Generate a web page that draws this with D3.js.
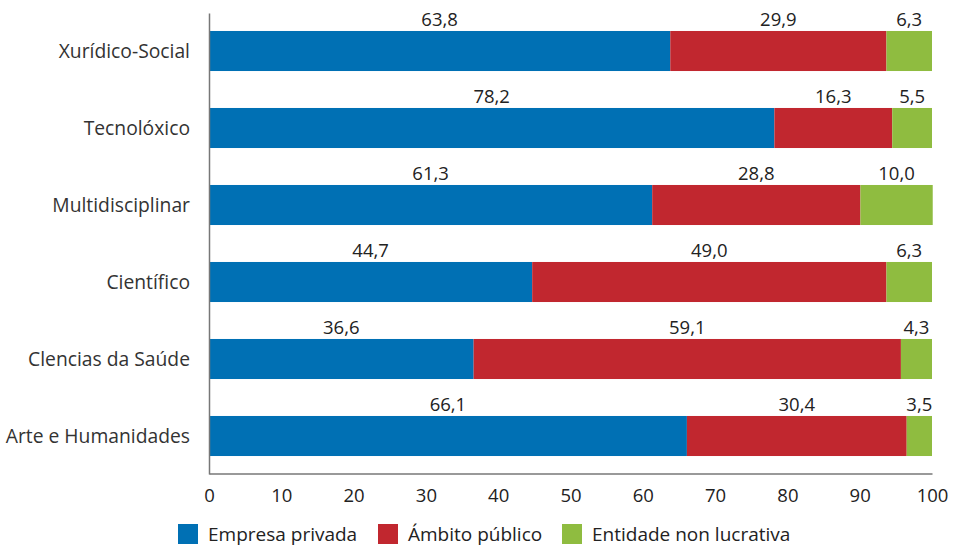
<!DOCTYPE html>
<html><head><meta charset="utf-8">
<script src="https://cdn.jsdelivr.net/npm/d3@7/dist/d3.min.js"></script>
<style>body{margin:0;background:#fff;} text{font-family:"Open Sans",sans-serif;}</style>
</head><body><svg id="c" width="954" height="550"></svg>
<script>
const categories = ["Xurídico-Social","Tecnolóxico","Multidisciplinar","Científico","Clencias da Saúde","Arte e Humanidades"];
const seriesNames = ["Empresa privada","Ámbito público","Entidade non lucrativa"];
const empresaPrivada = [63.8,78.2,61.3,44.7,36.6,66.1];
const ambitoPublico = [29.9,16.3,28.8,49.0,59.1,30.4];
const entidadeNonLucrativa = [6.3,5.5,10.0,6.3,4.3,3.5];
const xTicks = [0,10,20,30,40,50,60,70,80,90,100];
const colors = ["#0070b4","#c1272f","#8fbc40"];

const svg = d3.select("#c");
const x = d3.scaleLinear().domain([0,100]).range([209,932]);
const y = d3.scaleBand().domain(categories).range([12.5,474.5]).paddingInner(0.48).paddingOuter(0.24);

const rows = categories.map((c,i)=>({cat:c, v0:empresaPrivada[i], v1:ambitoPublico[i], v2:entidadeNonLucrativa[i]}));
const stack = d3.stack().keys(["v0","v1","v2"])(rows);
const fmt = v => d3.format(".1f")(v).replace(".",",");

stack.forEach((layer,k)=>{
  const g = svg.append("g");
  g.selectAll("rect").data(layer).join("rect")
    .attr("x",d=>x(d[0])).attr("width",d=>x(d[1])-x(d[0]))
    .attr("y",d=>y(d.data.cat)).attr("height",y.bandwidth())
    .attr("fill",colors[k]);
  g.selectAll("text").data(layer).join("text")
    .attr("x",d=>(x(d[0])+x(d[1]))/2).attr("y",d=>y(d.data.cat)-5)
    .attr("text-anchor","middle").attr("font-size",18.5).attr("fill","#222")
    .text(d=>fmt(d[1]-d[0]));
});

// category labels
svg.append("g").selectAll("text").data(categories).join("text")
  .attr("x",190).attr("y",d=>y(d)+y.bandwidth()/2).attr("dy","0.35em")
  .attr("text-anchor","end").attr("font-size",19.3).attr("fill","#333").text(d=>d);

// axes
const xAxis = svg.append("g").attr("transform","translate(0,473.5)")
  .call(d3.axisBottom(x).tickValues(xTicks).tickSize(0).tickPadding(15).tickFormat(d=>d));
xAxis.select(".domain").attr("stroke","#777").attr("stroke-width",1.5);
xAxis.selectAll("text").attr("font-size",18.5).attr("fill","#222").attr("font-family","'Open Sans',sans-serif");
const yAxis = svg.append("g").attr("transform","translate(209,0)")
  .call(d3.axisLeft(d3.scaleLinear().range([13,474])).ticks(0).tickSize(0));
yAxis.select(".domain").attr("stroke","#777").attr("stroke-width",1.5);

// legend
const legX = [178,378,562];
const leg = svg.append("g").selectAll("g").data(seriesNames).join("g")
  .attr("transform",(d,i)=>`translate(${legX[i]},524)`);
leg.append("rect").attr("width",20).attr("height",20).attr("fill",(d,i)=>colors[i]);
leg.append("text").attr("x",30).attr("y",10).attr("dy","0.35em").attr("font-size",19).attr("fill","#222").text(d=>d);
</script></body></html>
